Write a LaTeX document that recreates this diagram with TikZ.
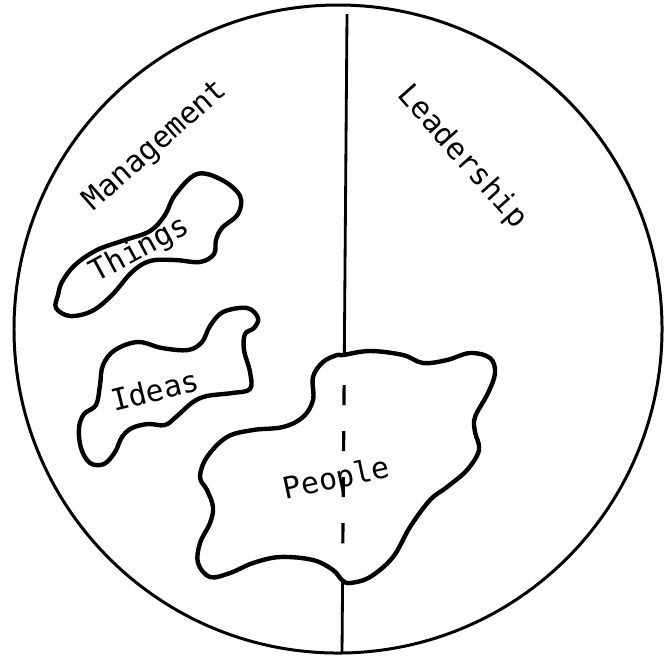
\documentclass[tikz,border=0pt]{standalone}
\usepackage{fontspec}
\setmonofont{DejaVu Sans Mono}
\begin{document}
\begin{tikzpicture}[x=0.01cm, y=0.01cm]
		\tikzstyle{every node}+=[inner sep=0pt, font=\ttfamily\fontsize{8.5}{10}\selectfont]
		\tikzstyle{blob}=[black, line width=1.25pt, line join=round]
		\useasboundingbox (0,0) rectangle (665,-657);
		\draw [black, line width=0.85pt] (338,-329) circle (324);
		% dividing line
		\coordinate (top) at (347,-14);
		\coordinate (ptop) at (344.3,-356);
		\coordinate (dtop) at (344.1,-385);
		\coordinate (dbot) at (342.8,-545);
		\coordinate (pbot) at (342.6,-580);
		\coordinate (bot) at (342,-652);
		\draw [black, line width=0.8pt] (top) -- (ptop);
		\draw [black, line width=0.9pt, dash pattern=on 5.7pt off 7.4pt] (dtop) -- (dbot);
		\draw [black, line width=0.8pt] (pbot) -- (bot);
		% blobs
		\draw [blob] plot [smooth cycle, tension=0.6] coordinates {(197,-174) (222,-180) (240,-196) (238,-214) (222,-228) (216,-240) (214,-254) (200,-262) (175,-260) (150,-261) (132,-272) (112,-295) (92,-311) (70,-316) (56,-308) (58,-295) (62,-282) (75,-265) (97,-250) (125,-240) (150,-231) (165,-215) (175,-195)};
		\draw [blob] plot [smooth cycle, tension=0.6] coordinates {(223,-312) (247,-308) (258,-318) (254,-328) (245,-334) (244,-350) (250,-372) (250,-389) (232,-393) (207,-396) (193,-402) (177,-416) (165,-425) (148,-424) (132,-428) (122,-437) (115,-452) (104,-464) (90,-463) (81,-448) (79,-428) (84,-414) (96,-405) (100,-385) (103,-365) (115,-350) (138,-342) (162,-348) (188,-350) (202,-342) (210,-326)};
		\draw [blob] plot [smooth cycle, tension=0.6] coordinates {(343,-355) (370,-351) (403,-355) (423,-363) (447,-360) (470,-353) (490,-358) (495,-373) (488,-393) (475,-417) (475,-432) (479,-450) (467,-470) (447,-487) (430,-500) (410,-527) (393,-557) (370,-577) (350,-583) (342,-580) (333,-570) (313,-560) (280,-557) (253,-563) (230,-573) (210,-577) (198,-563) (200,-543) (210,-523) (213,-507) (207,-490) (200,-477) (207,-457) (227,-437) (253,-430) (283,-427) (303,-417) (313,-400) (313,-377) (323,-362) (337,-355)};
		% labels
		\node (mgmt) at (156,-146) [rotate=41.5] {Management};
		\node (lead) at (462,-157) [rotate=-48.4] {Leadership};
		\node (things) at (140,-250) [rotate=28.4] {Things};
		\node (ideas) at (155,-390) [rotate=14] {Ideas};
		\node (people) at (337,-480) [rotate=12] {People};
	\end{tikzpicture}
\end{document}
